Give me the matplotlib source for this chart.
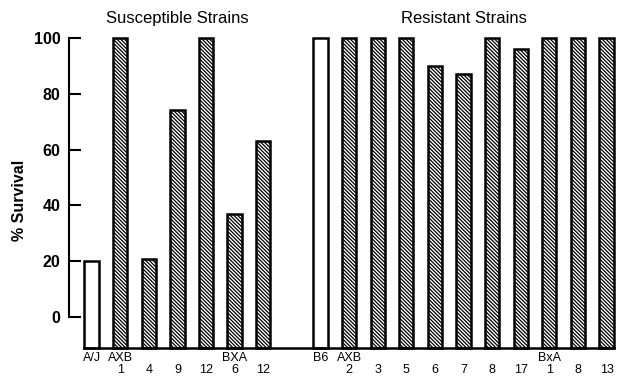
import matplotlib.pyplot as plt
import numpy as np

plt.rcParams['font.family'] = ['Liberation Sans', 'DejaVu Sans']
plt.rcParams['hatch.linewidth'] = 0.9

# Survival data (% survival)
susceptible_names = ["A/J", "AXB", "", "", "", "BXA", ""]
susceptible_nums = ["", "1", "4", "9", "12", "6", "12"]
susceptible_vals = [20, 100, 21, 74, 100, 37, 63]

resistant_names = ["B6", "AXB", "", "", "", "", "", "", "BxA", "", ""]
resistant_nums = ["", "2", "3", "5", "6", "7", "8", "17", "1", "8", "13"]
resistant_vals = [100, 100, 100, 100, 90, 87, 100, 96, 100, 100, 100]

baseline = -11

pos_s = np.arange(len(susceptible_vals))
pos_r = np.arange(len(resistant_vals)) + len(susceptible_vals) + 1

fig = plt.figure(figsize=(6.21, 3.77), dpi=100)
ax = fig.add_axes([69 / 621, 29 / 377, 547 / 621, 313 / 377])

for pos, vals in [(pos_s, susceptible_vals), (pos_r, resistant_vals)]:
    for i, (p, v) in enumerate(zip(pos, vals)):
        ax.bar(p, v - baseline, bottom=baseline, width=0.5,
               facecolor='white', edgecolor='black', linewidth=1.8,
               hatch=None if i == 0 else '\\' * 9, clip_on=False)

ax.set_xlim(-0.79, 18.33)
ax.set_ylim(baseline, 101)

ax.spines['top'].set_visible(False)
ax.spines['right'].set_visible(False)
ax.spines['left'].set_bounds(0, 100)
ax.spines['left'].set_linewidth(1.5)
ax.spines['bottom'].set_position(('data', baseline))
ax.spines['bottom'].set_bounds(-0.25, 18.25)
ax.spines['bottom'].set_linewidth(1.8)

ax.set_yticks([0, 20, 40, 60, 80, 100])
ax.tick_params(axis='y', direction='in', length=8.5, width=1.5, pad=6,
               labelsize=11.5)
for t in ax.get_yticklabels():
    t.set_fontweight('bold')

positions = list(pos_s) + list(pos_r)
names = susceptible_names + resistant_names
nums = susceptible_nums + resistant_nums
ax.set_xticks(positions)
ax.set_xticklabels([f"{n}\n{m}" if n else f"\n{m}" for n, m in zip(names, nums)],
                   fontsize=9, linespacing=0.95)
ax.tick_params(axis='x', length=0, pad=3)

ax.text(np.mean(pos_s), 107, "Susceptible Strains", ha='center', va='center',
        fontsize=12, clip_on=False)
ax.text(np.mean(pos_r), 107, "Resistant Strains", ha='center', va='center',
        fontsize=12, clip_on=False)

fig.text(20 / 621, 1 - 200 / 377, "% Survival", rotation=90, ha='center',
         va='center', fontsize=11.5, fontweight='bold')

fig.savefig("out.png", dpi=100)
